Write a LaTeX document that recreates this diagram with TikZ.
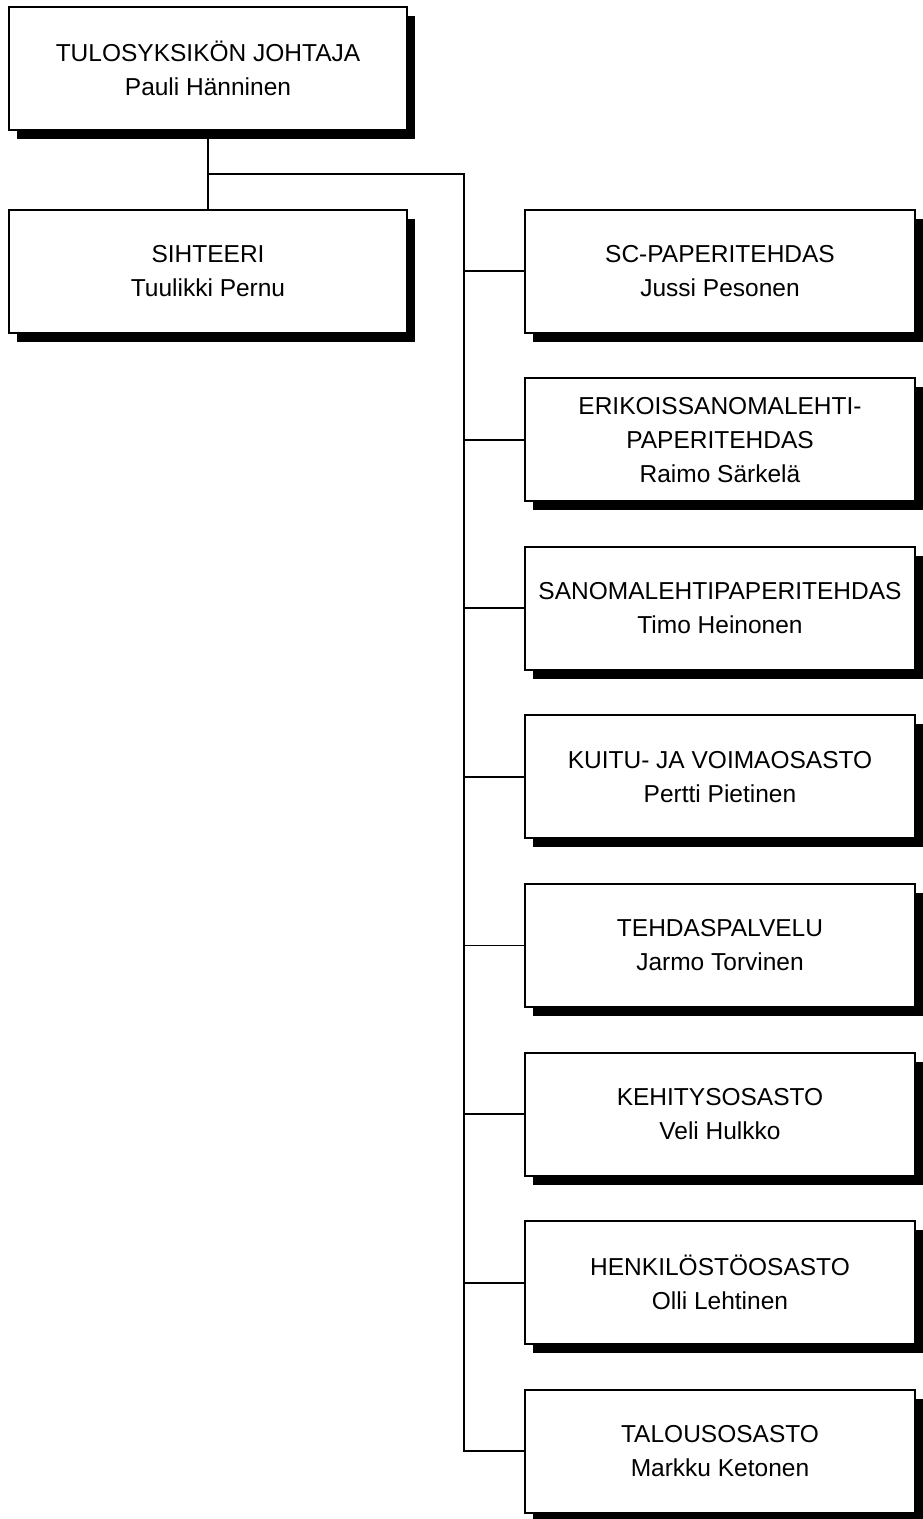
\documentclass[tikz,border=0pt]{standalone}
\usepackage{fontspec}
\setmainfont{Liberation Sans}
\usetikzlibrary{shadows}

\begin{document}
\begin{tikzpicture}[x=1pt,y=1pt,node distance=168.6pt,
    unit/.style={draw,line width=2pt,fill=white,align=center,minimum height=123pt,
      font=\fontsize{24.5}{34}\selectfont,
      drop shadow={shadow xshift=8pt,shadow yshift=-9pt,fill=black,opacity=1}},
    chief/.style={unit,minimum width=398pt},
    dept/.style={unit,minimum width=390pt},
    link/.style={line width=1.8pt}]
                \useasboundingbox (0,0) rectangle (923,-1519);
                \node[chief] (johtaja) at (208,-68.5) {TULOSYKSIKÖN JOHTAJA\\Pauli Hänninen};
                \node[chief] (sihteeri) at (208,-271) {SIHTEERI\\Tuulikki Pernu};
                \node[dept] (sc) at (720,-271) {SC-PAPERITEHDAS\\Jussi Pesonen};
                \node[dept] (erikois) [below of = sc] {ERIKOISSANOMALEHTI-\\PAPERITEHDAS\\Raimo Särkelä};
                \node[dept] (sanoma) [below of = erikois] {SANOMALEHTIPAPERITEHDAS\\Timo Heinonen};
                \node[dept] (kuitu) [below of = sanoma] {KUITU- JA VOIMAOSASTO\\Pertti Pietinen};
                \node[dept] (tehdas) [below of = kuitu] {TEHDASPALVELU\\Jarmo Torvinen};
                \node[dept] (kehitys) [below of = tehdas] {KEHITYSOSASTO\\Veli Hulkko};
                \node[dept] (henkilo) [below of = kehitys] {HENKILÖSTÖOSASTO\\Olli Lehtinen};
                \node[dept] (talous) [below of = henkilo] {TALOUSOSASTO\\Markku Ketonen};
                \coordinate (split) at ([yshift=-43pt]johtaja.south);
                \coordinate (trunk) at ([xshift=-60pt]sc.west);
                \draw[link] (johtaja) -- (sihteeri);
                \draw[link] (split) -| (trunk |- talous) -- (talous);
                \foreach \n in {sc,erikois,sanoma,kuitu,tehdas,kehitys,henkilo}
                    \draw[link] (trunk |- \n) -- (\n);
            \end{tikzpicture}
\end{document}
